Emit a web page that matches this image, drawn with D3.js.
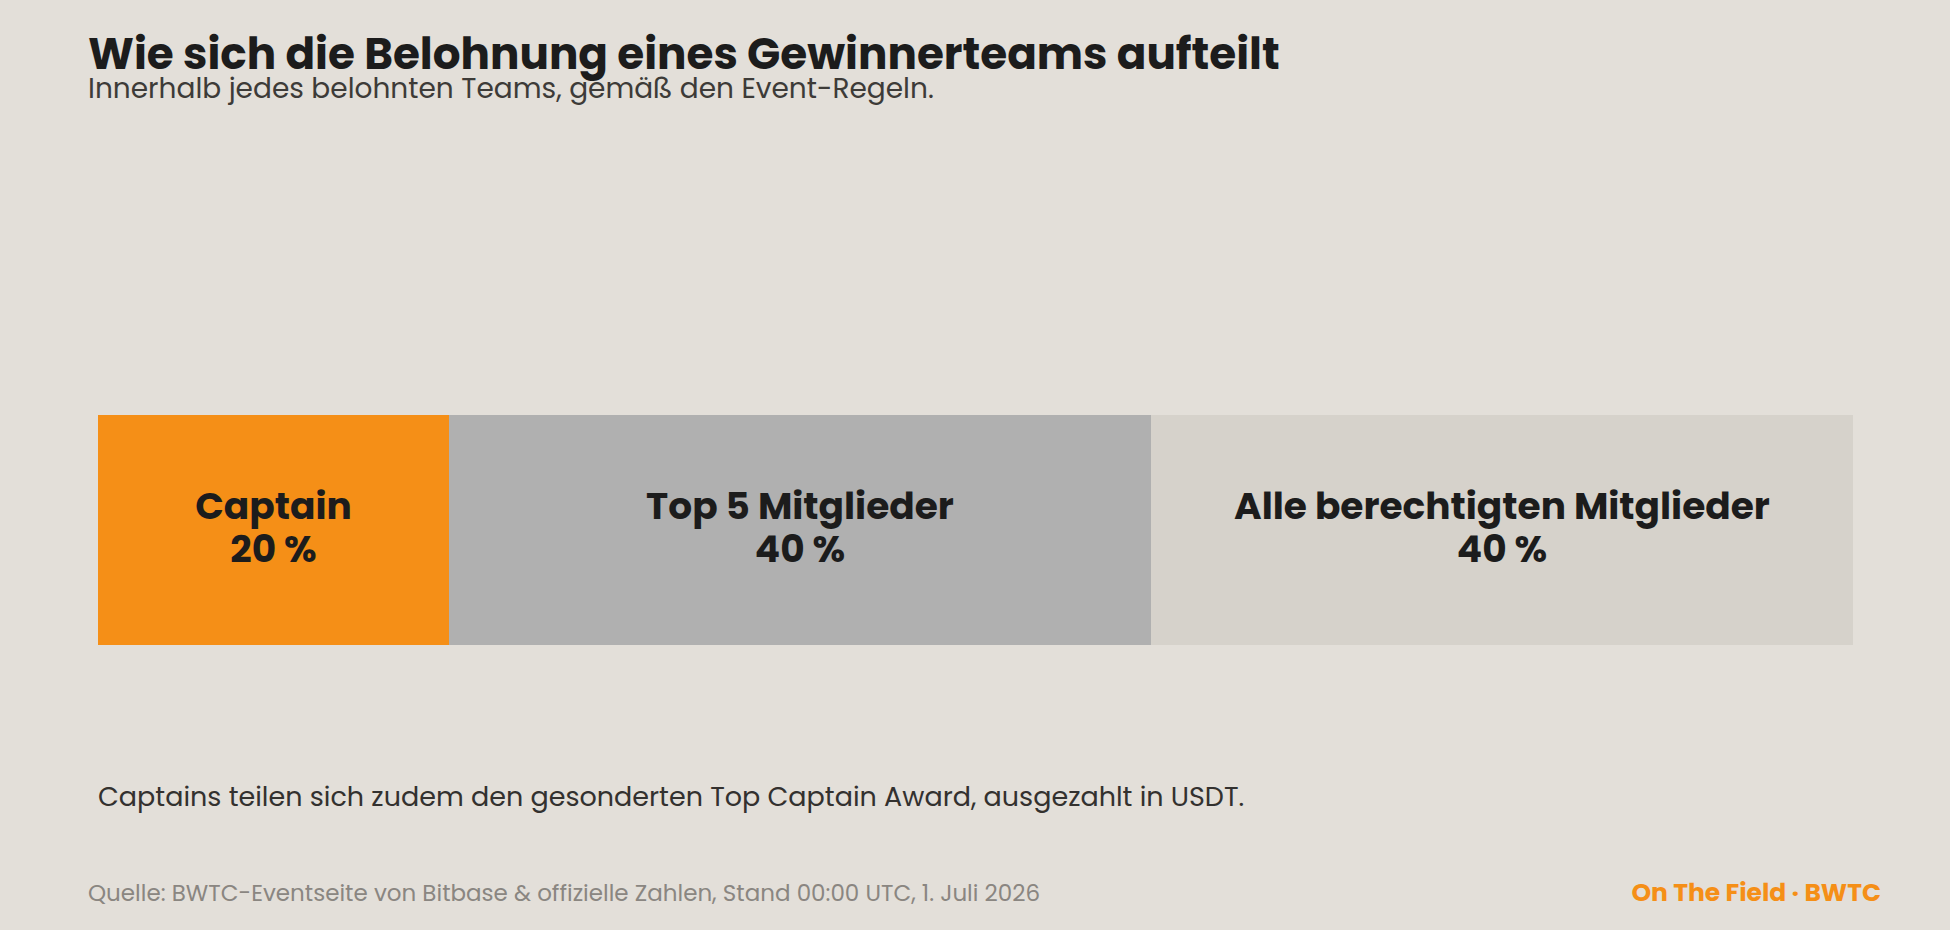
<!DOCTYPE html>
<html>
<head>
<meta charset="utf-8">
<script src="https://cdn.jsdelivr.net/npm/d3@7"></script>
<style>
  html, body { margin: 0; padding: 0; background: #e3dfd9; }
  svg { display: block; font-family: Poppins, Inter, "Noto Sans", sans-serif; }
</style>
</head>
<body>
<svg id="chart"></svg>
<script>
// data
const segments = ["Captain", "Top 5 Mitglieder", "Alle berechtigten Mitglieder"];
const shares = [20, 40, 40];
const segmentColors = ["#f58f17", "#b0b0b0", "#d6d2cb"];

const title = "Wie sich die Belohnung eines Gewinnerteams aufteilt";
const subtitle = "Innerhalb jedes belohnten Teams, gemäß den Event-Regeln.";
const note = "Captains teilen sich zudem den gesonderten Top Captain Award, ausgezahlt in USDT.";
const source = "Quelle: BWTC-Eventseite von Bitbase & offizielle Zahlen, Stand 00:00 UTC, 1. Juli 2026";
const brand = "On The Field · BWTC";

const W = 1950, H = 930;
const margin = {top: 415, bottom: 285, left: 98, right: 97};

const svg = d3.select('#chart')
    .attr('width', W)
    .attr('height', H);

svg.append('rect')
    .attr('width', W)
    .attr('height', H)
    .attr('fill', '#e3dfd9');

const xScale = d3.scaleLinear()
    .domain([0, d3.sum(shares)])
    .range([margin.left, W - margin.right]);

const yScale = d3.scaleBand()
    .domain(["team"])
    .range([margin.top, H - margin.bottom])
    .padding(0);

const starts = [0, ...d3.cumsum(shares)].slice(0, shares.length);
const rows = segments.map((s, i) => ({name: s, value: shares[i], start: starts[i], color: segmentColors[i]}));

const chart = svg.append('g');

chart.selectAll('rect.seg')
    .data(rows)
    .join('rect')
    .attr('class', 'seg')
    .attr('x', d => xScale(d.start))
    .attr('y', yScale("team"))
    .attr('width', d => xScale(d.start + d.value) - xScale(d.start))
    .attr('height', yScale.bandwidth())
    .attr('fill', d => d.color);

// two-line label: name, then share
const labels = chart.selectAll('text.lab')
    .data(rows)
    .join('text')
    .attr('class', 'lab')
    .attr('text-anchor', 'middle')
    .attr('transform', d => `translate(${xScale(d.start + d.value / 2)},${yScale("team") + yScale.bandwidth() / 2})`)
    .style('font-size', '37.5px')
    .style('font-weight', 700)
    .style('fill', '#1c1c1c');

labels.append('tspan')
    .attr('x', 0)
    .attr('y', -11)
    .text(d => d.name);

labels.append('tspan')
    .attr('x', 0)
    .attr('y', 32)
    .text(d => `${d.value} %`);

// titles
svg.append('text')
    .attr('x', 88)
    .attr('y', 69)
    .style('font-size', '43.7px')
    .style('font-weight', 700)
    .style('fill', '#1c1c1c')
    .text(title);

svg.append('text')
    .attr('x', 88)
    .attr('y', 98)
    .style('font-size', '28px')
    .style('font-weight', 400)
    .style('fill', '#3d3b38')
    .text(subtitle);

svg.append('text')
    .attr('x', 98)
    .attr('y', 806)
    .style('font-size', '27px')
    .style('fill', '#33312f')
    .text(note);

svg.append('text')
    .attr('x', 88)
    .attr('y', 901)
    .style('font-size', '23px')
    .style('fill', '#8a8681')
    .text(source);

svg.append('text')
    .attr('x', 1881)
    .attr('y', 901)
    .attr('text-anchor', 'end')
    .style('font-size', '25px')
    .style('font-weight', 700)
    .style('fill', '#f58f17')
    .text(brand);
</script>
</body>
</html>
